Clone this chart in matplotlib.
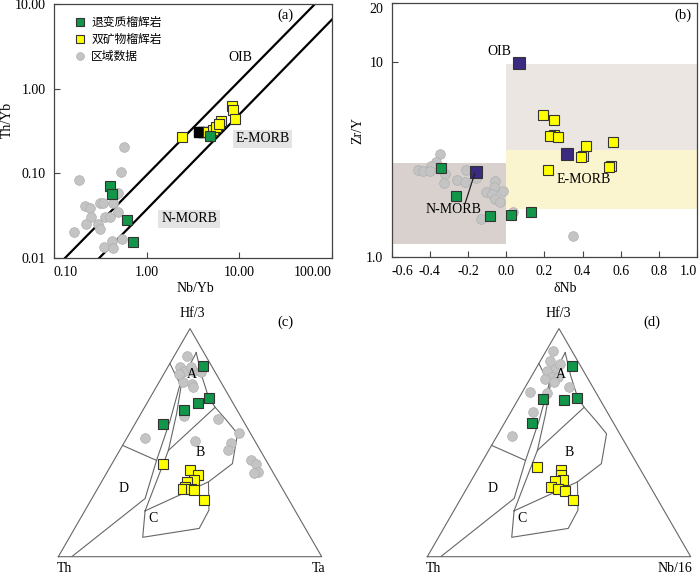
import numpy as np
import matplotlib
matplotlib.use("Agg")
import matplotlib.pyplot as plt

plt.rcParams["font.family"] = ["Liberation Serif", "Noto Sans CJK SC", "DejaVu Sans"]

GREEN = "#12964a"
YELLOW = "#ffff00"
GREY = "#c4c4c4"
PURPLE = "#3a2a80"
EDGE = "#333333"

# ---- (a) Nb/Yb vs Th/Yb ----
a_green_nb = [0.402, 0.425, 0.608, 0.706, 4.82]
a_green_th = [0.0711, 0.0571, 0.0282, 0.0153, 0.278]
a_yellow_nb = [2.39, 8.37, 8.6, 9.04, 6.28, 4.58, 5.19, 5.6, 6.03]
a_yellow_th = [0.265, 0.63, 0.563, 0.438, 0.41, 0.31, 0.327, 0.355, 0.385]
a_black_nb = [3.66, 4.05]
a_black_th = [0.305, 0.305]
a_grey_nb = [0.569, 0.525, 0.186, 0.216, 0.244, 0.313, 0.34, 0.455, 0.436, 0.494,
             0.249, 0.355, 0.402, 0.221, 0.301, 0.313, 0.164, 0.419, 0.537, 0.346,
             0.436, 0.494]
a_grey_th = [0.207, 0.103, 0.083, 0.0416, 0.0387, 0.0444, 0.0444, 0.0557, 0.0444, 0.0353,
             0.0303, 0.0308, 0.0303, 0.0251, 0.0253, 0.0219, 0.0201, 0.016, 0.0166, 0.0136,
             0.013, 0.0584]
# MORB-OIB array boundaries
array_upper_nb = [0.1315, 65.5]
array_upper_th = [0.01, 10.0]
array_lower_nb = [0.308, 100.0]
array_lower_th = [0.01, 6.56]

# ---- (b) dNb vs Zr/Y ----
b_green_dnb = [-0.343, -0.263, -0.085, 0.024, 0.129]
b_green_zry = [2.87, 2.05, 1.62, 1.64, 1.70]
b_yellow_dnb = [0.195, 0.249, 0.252, 0.231, 0.273, 0.417, 0.562, 0.405, 0.391, 0.548, 0.539, 0.221]
b_yellow_zry = [5.32, 5.05, 4.23, 4.18, 4.14, 3.71, 3.91, 3.30, 3.24, 2.93, 2.90, 2.81]
b_grey_dnb = [-0.348, -0.370, -0.395, -0.464, -0.435, -0.400, -0.322, -0.327, -0.212, -0.256,
              -0.217, -0.157, -0.061, -0.066, -0.017, -0.104, -0.075, -0.057, -0.030, 0.038,
              -0.134, 0.348]
b_grey_zry = [3.38, 3.06, 2.94, 2.79, 2.77, 2.77, 2.68, 2.40, 2.81, 2.48,
              2.43, 2.53, 2.45, 2.29, 2.19, 2.16, 2.10, 1.98, 1.92, 1.70,
              1.56, 1.28]
ref_names = ["OIB", "N-MORB", "E-MORB"]
ref_dnb = [0.066, -0.157, 0.318]
ref_zry = [9.9, 2.74, 3.36]
# shaded fields: (x0, x1, y0, y1)
nmorb_box = (-0.6, 0.0, 1.17, 3.02)
oib_box = (0.0, 1.0, 3.54, 9.77)
emorb_box = (0.0, 1.0, 1.77, 3.54)

# ---- (c) Th-Hf/3-Ta, percent (Hf/3, Ta, Th) ----
c_green = [(83.7, 13.0, 3.3), (69.4, 22.5, 8.1), (67.2, 19.6, 13.2), (64.5, 15.6, 19.9), (58.2, 10.8, 31.0)]
c_grey = [(88.1, 4.7, 7.2), (83.0, 4.7, 12.3), (81.5, 7.4, 11.1), (81.5, 10.5, 8.0), (83.3, 8.6, 8.1),
          (76.4, 9.3, 14.3), (75.7, 12.8, 11.5), (74.2, 14.2, 11.6), (80.8, 13.7, 5.5), (80.1, 5.6, 14.3),
          (61.9, 16.6, 21.5), (60.4, 30.6, 9.0), (54.1, 41.4, 4.5), (49.9, 40.5, 9.6), (46.9, 40.9, 12.2),
          (50.7, 26.6, 22.7), (52.1, 6.9, 41.0), (42.5, 51.8, 5.7), (40.5, 54.9, 4.6), (37.1, 57.1, 5.8),
          (36.7, 55.8, 7.5)]
c_yellow = [(40.8, 19.2, 40.0), (38.1, 31.0, 30.9), (35.7, 35.0, 29.3), (33.8, 34.6, 31.6), (32.8, 32.3, 34.9),
            (30.6, 32.8, 36.6), (29.8, 32.3, 37.9), (29.8, 35.4, 34.8), (29.1, 37.0, 33.9), (24.7, 42.8, 32.5)]

# ---- (d) Th-Hf/3-Nb/16, percent (Hf/3, Nb/16, Th) ----
d_green = [(83.7, 13.0, 3.3), (69.6, 22.2, 8.2), (68.7, 17.7, 13.6), (69.1, 9.5, 21.4), (58.5, 10.4, 31.1)]
d_grey = [(90.0, 2.9, 7.1), (85.9, 3.7, 10.4), (82.2, 7.4, 10.4), (81.5, 4.6, 13.9), (78.6, 7.9, 13.5),
          (78.6, 10.5, 10.9), (77.9, 5.8, 16.3), (76.4, 9.9, 13.7), (84.4, 8.2, 7.4), (74.5, 16.7, 8.8),
          (72.3, 2.9, 24.8), (71.6, 9.5, 18.9), (63.6, 8.5, 27.9), (52.8, 5.6, 41.6)]
d_yellow = [(39.3, 21.9, 38.8), (37.8, 31.7, 30.5), (35.7, 32.8, 31.5), (33.8, 34.5, 31.7), (33.0, 32.0, 35.0),
            (30.6, 31.5, 37.9), (29.8, 34.9, 35.3), (28.7, 38.0, 33.3), (24.7, 43.1, 32.2)]

# Wood (1980) field boundaries, percent (Hf/3, right apex); Th is the rest
field_lines = [
    [(0, 5.1), (25.5, 20.2), (42.2, 16.2), (59.7, 12.6), (75.7, 8.4), (89.5, 7.6)],
    [(48.8, 0), (42.2, 16.2)],
    [(84.7, 0), (75.7, 8.4)],
    [(20.1, 22.9), (46.6, 18.5), (62.6, 13.6), (75.7, 8.9)],
    [(89.5, 7.6), (79.3, 14.8), (69.9, 22.1), (65.5, 26.8), (59.7, 34.1), (53.9, 41.1), (40.8, 45.7), (32.8, 40.6)],
    [(65.5, 26.8), (46.6, 18.5)],
    [(20.1, 22.9), (32.8, 40.6), (20.4, 47.0), (12.4, 47.3), (8.5, 27.8), (20.1, 22.9)],
]


def tern(hf, right, th):
    s = np.asarray(hf) + np.asarray(right) + np.asarray(th)
    hf = np.asarray(hf) / s
    right = np.asarray(right) / s
    return right + hf / 2, hf * np.sqrt(3) / 2


fig = plt.figure(figsize=(7, 5.74), dpi=100)


def style_axes(ax):
    for s in ax.spines.values():
        s.set_color("#444444")
        s.set_linewidth(0.9)
    ax.tick_params(direction="in", length=4, width=0.8, color="#444444",
                   labelsize=10, pad=6)
    ax.minorticks_off()


# ---------- (a) ----------
ax = fig.add_axes([54 / 700, 316 / 574, 278 / 700, 254 / 574])
ax.set_xscale("log")
ax.set_yscale("log")
ax.set_xlim(0.1, 100)
ax.set_ylim(0.01, 10)
ax.plot(array_upper_nb, array_upper_th, color="black", lw=1.6)
ax.plot(array_lower_nb, array_lower_th, color="black", lw=1.6)
ax.plot(a_grey_nb, a_grey_th, "o", ms=7, mfc=GREY, mec="#b0b0b0", mew=0.5, ls="none", label="区域数据")
ax.plot(a_black_nb, a_black_th, "s", ms=6.5, mfc="black", mec="black", ls="none")
ax.plot(a_yellow_nb, a_yellow_th, "s", ms=6.5, mfc=YELLOW, mec=EDGE, mew=0.8, ls="none", label="双矿物榴辉岩")
ax.plot(a_green_nb, a_green_th, "s", ms=6.5, mfc=GREEN, mec=EDGE, mew=0.8, ls="none", label="退变质榴辉岩")
ax.set_xticks([0.1, 1, 10, 100])
ax.set_xticklabels(["0.10", "1.00", "10.00", "100.00"])
ax.set_yticks([0.01, 0.1, 1, 10])
ax.set_yticklabels(["0.01", "0.10", "1.00", "10.00"])
style_axes(ax)
xl = ax.get_xticklabels()
xl[0].set_ha("left")
xl[-1].set_ha("right")
h, l = ax.get_legend_handles_labels()
order = [2, 1, 0]
leg = ax.legend([h[i] for i in order], [l[i] for i in order], loc="upper left",
                bbox_to_anchor=(0.04, 0.995), frameon=False,
                handlelength=0.8, handletextpad=0.5, labelspacing=0.35, markerscale=0.8,
                prop={"family": ["Noto Sans CJK SC"], "size": 8.5})
ax.text(0.831, 0.957, "(a)", transform=ax.transAxes, ha="center", va="center", fontsize=10.5)
ax.text(0.669, 0.791, "OIB", transform=ax.transAxes, ha="center", va="center", fontsize=10)
ax.text(0.75, 0.469, "E-MORB", transform=ax.transAxes, ha="center", va="center", fontsize=10,
        bbox=dict(facecolor="#e4e4e4", edgecolor="none", pad=2))
ax.text(0.486, 0.154, "N-MORB", transform=ax.transAxes, ha="center", va="center", fontsize=10,
        bbox=dict(facecolor="#e4e4e4", edgecolor="none", pad=2))
fig.text(7 / 700, 1 - 120 / 574, "Th/Yb", rotation=90, ha="center", va="center", fontsize=10)
fig.text(195 / 700, 1 - 288 / 574, "Nb/Yb", ha="center", va="center", fontsize=10)

# ---------- (b) ----------
ax = fig.add_axes([391.7 / 700, 317 / 574, 305.3 / 700, 253.7 / 574])
ax.set_yscale("log")
ax.set_xlim(-0.6, 1.0)
ax.set_ylim(1.0, 20)
for (x0, x1, y0, y1), col in [(nmorb_box, "#d9d1cd"), (oib_box, "#ebe6e2"), (emorb_box, "#fbf5cf")]:
    ax.fill_between([x0, x1], y0, y1, color=col, lw=0, zorder=0)
ax.plot(b_grey_dnb, b_grey_zry, "o", ms=7, mfc=GREY, mec="#b0b0b0", mew=0.5, ls="none")
ax.plot(b_green_dnb, b_green_zry, "s", ms=6.5, mfc=GREEN, mec=EDGE, mew=0.8, ls="none")
ax.plot(b_yellow_dnb, b_yellow_zry, "s", ms=6.5, mfc=YELLOW, mec=EDGE, mew=0.8, ls="none")
ax.plot(ref_dnb, ref_zry, "s", ms=8, mfc=PURPLE, mec=EDGE, mew=0.8, ls="none")
ax.plot([-0.214, -0.165], [1.90, 2.68], color="#222222", lw=0.9)
xt = np.round(np.arange(-0.6, 1.01, 0.2), 1)
ax.set_xticks(xt)
ax.set_xticklabels(["%.1f" % v for v in xt])
ax.set_yticks([1, 10, 20])
ax.set_yticklabels(["1.0", "10", "20"])
style_axes(ax)
xl = ax.get_xticklabels()
xl[0].set_ha("left")
xl[0].set_x(xt[0])
xl[-1].set_ha("right")
ax.get_yticklabels()[-1].set_va("top")
ax.text(0.954, 0.954, "(b)", transform=ax.transAxes, ha="center", va="center", fontsize=10.5)
ax.text(0.352, 0.809, "OIB", transform=ax.transAxes, ha="center", va="center", fontsize=10)
ax.text(0.628, 0.304, "E-MORB", transform=ax.transAxes, ha="center", va="center", fontsize=10)
ax.text(0.202, 0.188, "N-MORB", transform=ax.transAxes, ha="center", va="center", fontsize=10)
fig.text(358 / 700, 1 - 130 / 574, "Zr/Y", rotation=90, ha="center", va="center", fontsize=10)
fig.text(565 / 700, 1 - 288 / 574, "δNb", ha="center", va="center", fontsize=10)


# ---------- ternary (c), (d) ----------
def ternary(left, green, grey, yellow, right_label, tag, label_pos):
    ax = fig.add_axes([left / 700, 17.3 / 574, 263.4 / 700, 228.1 / 574])
    ax.set_xlim(0, 1)
    ax.set_ylim(0, np.sqrt(3) / 2)
    ax.axis("off")
    ax.plot([0, 1, 0.5, 0], [0, 0, np.sqrt(3) / 2, 0], color="#666666", lw=0.8, clip_on=False)
    for line in field_lines:
        hf = [p[0] for p in line]
        rt = [p[1] for p in line]
        th = [100 - p[0] - p[1] for p in line]
        x, y = tern(hf, rt, th)
        ax.plot(x, y, color="#666666", lw=0.8)
    for pts, kw in [(grey, dict(marker="o", ms=7, mfc=GREY, mec="#b0b0b0", mew=0.5)),
                    (green, dict(marker="s", ms=6.5, mfc=GREEN, mec=EDGE, mew=0.8)),
                    (yellow, dict(marker="s", ms=6.5, mfc=YELLOW, mec=EDGE, mew=0.8))]:
        x, y = tern([p[0] for p in pts], [p[1] for p in pts], [p[2] for p in pts])
        ax.plot(x, y, ls="none", clip_on=False, **kw)
    for name, (x, y) in zip("ABCD", [(0.506, 0.69), (0.538, 0.395), (0.358, 0.146), (0.249, 0.259)]):
        ax.text(x, y, name, ha="center", va="center", fontsize=10)
    ax.text(label_pos[0], 0.924, "Hf/3", ha="center", va="center", fontsize=10, clip_on=False)
    ax.text(label_pos[1], -0.046, "Th", ha="center", va="center", fontsize=10, clip_on=False)
    ax.text(label_pos[2], -0.046, right_label, ha="center", va="center", fontsize=10, clip_on=False)
    ax.text(label_pos[3], 0.889, tag, ha="center", va="center", fontsize=10.5, clip_on=False)


ternary(58.3, c_green, c_grey, c_yellow, "Ta", "(c)", (0.510, 0.025, 0.987, 0.861))
ternary(427.3, d_green, d_grey, d_yellow, "Nb/16", "(d)", (0.497, 0.023, 0.940, 0.853))

fig.savefig("out.png", dpi=100)
